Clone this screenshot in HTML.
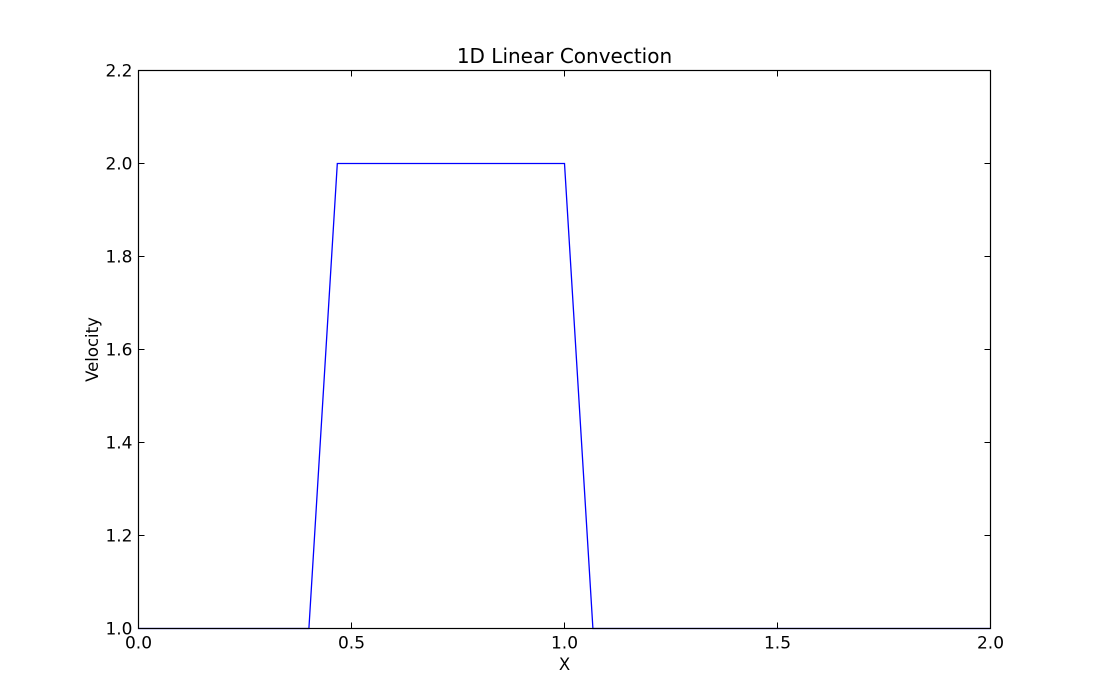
<!DOCTYPE html>
<html><head><meta charset="utf-8">
<style>
html,body{margin:0;padding:0;background:#fff;}
svg{display:block;font-family:"DejaVu Sans","Liberation Sans",sans-serif;}
</style></head>
<body>
<svg id="chart" width="1100" height="699" viewBox="0 0 1100 699">
<text x="564.5" y="63" font-size="20" text-anchor="middle">1D Linear Convection</text>
<text x="564.5" y="670" font-size="16.5" text-anchor="middle">X</text>
<text transform="translate(98,349.5) rotate(-90)" font-size="16.5" text-anchor="middle">Velocity</text>
<g id="ticks"></g>
<polyline id="series" fill="none" stroke="#0000ff" stroke-width="1.3"></polyline>
<rect x="138.5" y="70.5" width="852" height="558" fill="none" stroke="#000" stroke-width="1.2"></rect>
</svg>
<script>
const xValues = [0, 0.4, 0.4667, 1.0, 1.0667, 2.0];
const uValues = [1, 1, 2, 2, 1, 1];
const xTicks = [0, 0.5, 1.0, 1.5, 2.0];
const xTickLabels = ["0.0", "0.5", "1.0", "1.5", "2.0"];
const yTicks = [1.0, 1.2, 1.4, 1.6, 1.8, 2.0, 2.2];
const yTickLabels = ["1.0", "1.2", "1.4", "1.6", "1.8", "2.0", "2.2"];

const L = 138.5, R = 990.5, T = 70.5, B = 628.5;
const xMin = 0, xMax = 2, yMin = 1.0, yMax = 2.2;
function sx(v){ return L + (v - xMin) / (xMax - xMin) * (R - L); }
function sy(v){ return B - (v - yMin) / (yMax - yMin) * (B - T); }

const NS = "http://www.w3.org/2000/svg";
const g = document.getElementById("ticks");
function line(x1,y1,x2,y2){
  const l = document.createElementNS(NS, "line");
  l.setAttribute("x1", x1); l.setAttribute("y1", y1);
  l.setAttribute("x2", x2); l.setAttribute("y2", y2);
  l.setAttribute("stroke", "#000"); l.setAttribute("stroke-width", "1");
  
  
  g.appendChild(l);
}
function label(x,y,txt,anchor,name){
  const t = document.createElementNS(NS, "text");
  t.setAttribute("x", x); t.setAttribute("y", y);
  t.setAttribute("font-size", "17"); t.setAttribute("text-anchor", anchor);
  t.textContent = txt;
  
  
  g.appendChild(t);
}
xTicks.forEach((v,i) => {
  const x = sx(v);
  line(x, B, x, B - 6);
  line(x, T, x, T + 6);
  label(x, B + 20, xTickLabels[i], "middle", "x-tick-label");
});
yTicks.forEach((v,i) => {
  const y = sy(v);
  line(L, y, L + 6, y);
  line(R, y, R - 6, y);
  label(L - 6, y + 6, yTickLabels[i], "end", "y-tick-label");
});
document.getElementById("series").setAttribute("points",
  xValues.map((v,i) => sx(v).toFixed(2) + "," + sy(uValues[i]).toFixed(2)).join(" "));
</script>
</body></html>
